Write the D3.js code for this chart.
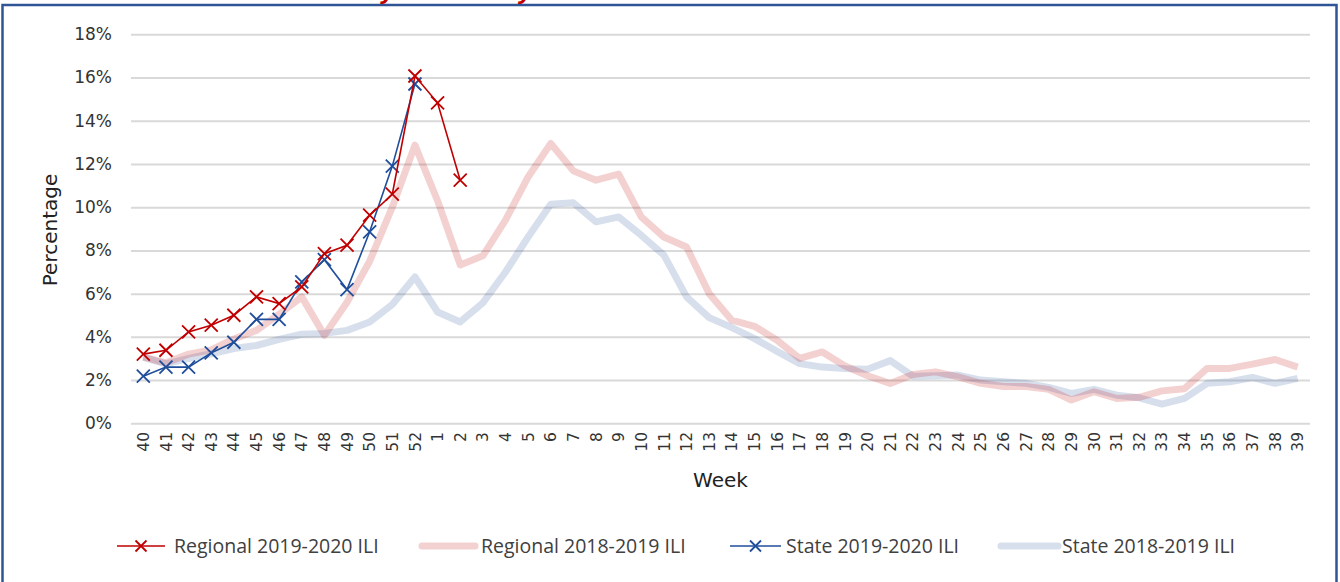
<!DOCTYPE html>
<html><head><meta charset="utf-8">
<script src="https://cdn.jsdelivr.net/npm/d3@7"></script>
<style>
html,body{margin:0;padding:0;background:#fff;}
svg{display:block;}
</style></head>
<body>
<svg id="chart" width="1340" height="582"></svg>
<script>
const weeks = ["40","41","42","43","44","45","46","47","48","49","50","51","52",
  "1","2","3","4","5","6","7","8","9","10","11","12","13","14","15","16","17","18","19","20",
  "21","22","23","24","25","26","27","28","29","30","31","32","33","34","35","36","37","38","39"];
const yTicks = [0,2,4,6,8,10,12,14,16,18];
const regional1920 = [3.2,3.38,4.23,4.54,5.0,5.85,5.54,6.31,7.85,8.24,9.63,10.6,16.07,14.83,11.25];
const state1920 = [2.18,2.6,2.6,3.26,3.75,4.81,4.81,6.54,7.57,6.19,8.86,11.9,15.7];
const regional1819 = [3.07,2.8,3.2,3.4,3.9,4.3,5.05,5.85,4.07,5.6,7.5,10.0,12.87,
  10.3,7.33,7.75,9.4,11.4,12.95,11.68,11.25,11.53,9.55,8.62,8.16,6.0,4.77,4.49,3.84,3.0,3.3,2.65,2.2,
  1.84,2.26,2.38,2.15,1.85,1.7,1.7,1.57,1.08,1.46,1.15,1.2,1.5,1.6,2.54,2.54,2.74,2.95,2.6];
const state1819 = [3.05,2.75,3.0,3.22,3.46,3.6,3.88,4.12,4.16,4.3,4.69,5.5,6.77,
  5.15,4.69,5.57,7.0,8.62,10.14,10.2,9.32,9.55,8.7,7.78,5.85,4.89,4.43,3.92,3.33,2.76,2.6,2.53,2.5,
  2.9,2.18,2.2,2.23,2.0,1.92,1.85,1.66,1.38,1.57,1.3,1.18,0.89,1.15,1.85,1.92,2.12,1.85,2.08];
const seriesNames = ["Regional 2019-2020 ILI","Regional 2018-2019 ILI","State 2019-2020 ILI","State 2018-2019 ILI"];

const RED = "#C00000", BLUE = "#1F4E9B";
const svg = d3.select("#chart");

// frame
svg.append("rect").attr("x",2.5).attr("y",5).attr("width",1334).attr("height",620)
  .attr("fill","none").attr("stroke","#2F5597").attr("stroke-width",2.5);

// title, mostly above the visible area as in the reference
svg.append("text").attr("x",420).attr("y",-1).attr("text-anchor","middle")
  .attr("font-family","Liberation Sans, Arial, sans-serif").attr("font-size",26)
  .attr("font-weight","bold").attr("font-style","italic").attr("fill",RED)
  .text("Weekly ILI Activity");

const x = d3.scaleBand().domain(weeks).range([132,1309]);
const y = d3.scaleLinear().domain([0,18]).range([423.3,34.3]);
const cx = w => x(w) + x.bandwidth()/2;

// grid
const yAxis = d3.axisLeft(y).tickValues(yTicks).tickFormat(d => d + "%").tickSize(-(1310-131)).tickPadding(19);
const gy = svg.append("g").attr("transform","translate(131,0)").call(yAxis);
gy.select(".domain").remove();
gy.selectAll(".tick line").attr("stroke","#D9D9D9").attr("stroke-width",2);
gy.selectAll(".tick text").attr("font-family","DejaVu Sans, Verdana, sans-serif")
  .attr("font-size",17).attr("fill","#333");

// x axis labels
const xAxis = d3.axisBottom(x).tickSize(0).tickPadding(0);
const gx = svg.append("g").attr("transform","translate(0,432)").call(xAxis);
gx.select(".domain").remove();
gx.selectAll(".tick text")
  .attr("font-family","DejaVu Sans, Verdana, sans-serif").attr("font-size",15.5).attr("fill","#333")
  .attr("text-anchor","end").attr("transform","rotate(-90)")
  .attr("x",0).attr("y",0).attr("dy","0.36em");

// axis titles
svg.append("text").attr("x",720.5).attr("y",487).attr("text-anchor","middle")
  .attr("font-family","DejaVu Sans, Verdana, sans-serif").attr("font-size",20).attr("fill","#222").text("Week");
svg.append("text").attr("transform","translate(57,230) rotate(-90)").attr("text-anchor","middle")
  .attr("font-family","DejaVu Sans, Verdana, sans-serif").attr("font-size",20).attr("fill","#222").text("Percentage");

const line = d3.line().x((d,i)=>cx(weeks[i])).y(d=>y(d));

// faded previous season lines
svg.append("path").datum(state1819).attr("d",line).attr("fill","none")
  .attr("stroke",BLUE).attr("stroke-opacity",0.18).attr("stroke-width",7).attr("stroke-linejoin","round");
svg.append("path").datum(regional1819).attr("d",line).attr("fill","none")
  .attr("stroke",RED).attr("stroke-opacity",0.18).attr("stroke-width",7).attr("stroke-linejoin","round");

function xMarker(g, px, py, color, r){
  g.append("path").attr("d",`M${px-r},${py-r}L${px+r},${py+r}M${px-r},${py+r}L${px+r},${py-r}`)
    .attr("stroke",color).attr("stroke-width",1.8).attr("fill","none");
}

function drawSeries(vals, color){
  const g = svg.append("g");
  g.append("path").datum(vals).attr("d",line).attr("fill","none").attr("stroke",color).attr("stroke-width",1.6);
  vals.forEach((v,i)=>xMarker(g, cx(weeks[i]), y(v), color, 6.5));
}
drawSeries(state1920, BLUE);
drawSeries(regional1920, RED);

// legend
const ly = 546;
const leg = svg.append("g").attr("font-family","Open Sans, Noto Sans, sans-serif").attr("font-size",19.5).attr("fill","#404040");
const items = [
  {name:seriesNames[0], x1:117, x2:165, tx:174, color:RED, w:1.6, op:1, mk:true},
  {name:seriesNames[1], x1:422, x2:475, tx:481, color:RED, w:7, op:0.18, mk:false},
  {name:seriesNames[2], x1:730, x2:781, tx:786, color:BLUE, w:1.6, op:1, mk:true},
  {name:seriesNames[3], x1:1001, x2:1058, tx:1062, color:BLUE, w:7, op:0.18, mk:false}
];
items.forEach(it=>{
  leg.append("line").attr("x1",it.x1).attr("x2",it.x2).attr("y1",ly).attr("y2",ly)
    .attr("stroke",it.color).attr("stroke-opacity",it.op).attr("stroke-width",it.w).attr("stroke-linecap",it.mk?"butt":"round");
  if(it.mk) xMarker(leg,(it.x1+it.x2)/2,ly,it.color,5.5);
  leg.append("text").attr("x",it.tx).attr("y",ly).attr("dy","0.35em").text(it.name);
});
</script>
</body></html>
